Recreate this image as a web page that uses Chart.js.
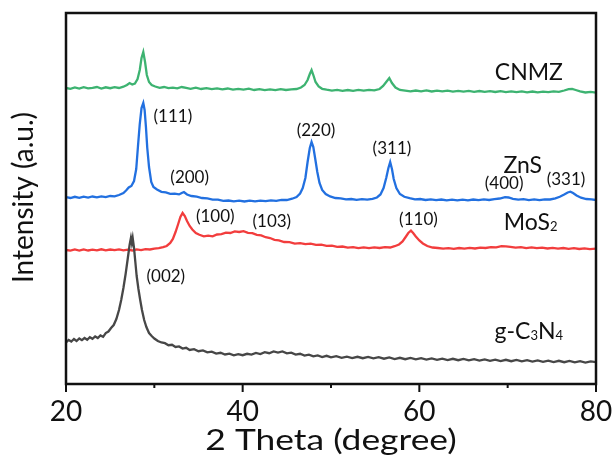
<!DOCTYPE html>
<html>
<head>
<meta charset="utf-8">
<script src="https://cdn.jsdelivr.net/npm/chart.js@4.4.1/dist/chart.umd.min.js"></script>
<style>
  html, body { margin: 0; padding: 0; background: #fff; }
  #wrap { width: 616px; height: 461px; }
</style>
</head>
<body>
<div id="wrap"><canvas id="chartXrd"></canvas></div>
<script>
// ── Datos: [2θ (grados), intensidad (u.a., curvas desplazadas)] ──
const cnmz = [[20,296],[20.5,295.2],[21,296.6],[21.5,295.4],[22,296.8],[22.5,295.6],[23,296.2],[23.5,297],[24,295.5],[24.5,296.7],[25,295.8],[25.5,296.9],[26,296],[26.5,297.3],[26.9,299],[27.2,301],[27.5,299.5],[27.8,300.5],[28.1,305],[28.35,314],[28.55,326],[28.75,332],[28.95,322],[29.15,309],[29.4,302],[29.7,299],[30.1,297.5],[30.6,296.2],[31.1,297],[31.6,295.8],[32.1,296.4],[32.6,295.6],[33.1,297],[33.6,296.1],[34.1,295.2],[34.7,296.3],[35.3,295],[35.9,295.9],[36.5,294.8],[37.1,295.7],[37.7,294.6],[38.3,295.5],[38.9,294.3],[39.5,295.2],[40.1,294.4],[40.7,295.3],[41.3,294],[41.9,294.9],[42.5,293.8],[43.1,294.7],[43.7,293.9],[44.3,294.8],[44.9,294],[45.5,294.6],[46.1,295],[46.6,296.5],[47.0,299],[47.35,304],[47.6,310],[47.8,314],[48.0,309],[48.25,302],[48.6,297.5],[49.0,295.2],[49.5,294.3],[50.1,293.4],[50.7,294.2],[51.3,293.1],[51.9,294],[52.5,293.2],[53.1,294.1],[53.7,293.3],[54.3,294.2],[54.9,293.6],[55.5,295],[55.9,298],[56.25,302],[56.6,306],[56.9,301],[57.3,296.5],[57.8,294],[58.4,293.4],[59.0,292.6],[59.6,293.5],[60.2,292.7],[60.8,293.6],[61.4,292.5],[62.0,293.4],[62.6,292.6],[63.2,293.3],[63.8,292.3],[64.4,293.2],[65.0,292.4],[65.6,293.1],[66.2,292.2],[66.8,293],[67.4,292.1],[68.0,292.9],[68.6,292],[69.2,292.8],[69.8,291.9],[70.4,292.7],[71.0,291.8],[71.6,292.6],[72.2,291.7],[72.8,292.5],[73.4,291.6],[74.0,292.4],[74.6,291.8],[75.2,292.7],[75.8,292.2],[76.4,293.5],[76.9,294.8],[77.3,295],[77.7,294],[78.2,292.6],[78.8,291.5],[79.4,292.1],[80,291.3]];

const zns = [[20,186.8],[20.5,186],[21,187.2],[21.5,186.1],[22,187.3],[22.5,186.4],[23,187.5],[23.5,186.6],[24,187.6],[24.5,186.9],[25,188],[25.5,187.6],[26,189],[26.5,191],[26.8,193.5],[27.1,196.5],[27.4,198],[27.7,203],[27.95,215],[28.15,238],[28.35,260],[28.55,276],[28.75,281],[28.9,274],[29.05,257],[29.2,236],[29.4,217],[29.65,202],[29.9,197],[30.3,194.5],[30.8,192.2],[31.3,191.6],[31.8,190.2],[32.3,190.4],[32.8,189.6],[33.1,191],[33.35,192],[33.7,189.5],[34.2,188],[34.8,187.3],[35.4,186],[36,185.6],[36.6,184.4],[37.2,184.3],[37.8,183.1],[38.4,183.5],[39,182.6],[39.6,183.4],[40.2,182.5],[40.8,183.3],[41.4,182.6],[42,183.4],[42.6,182.8],[43.2,183.7],[43.8,183.2],[44.4,184.1],[45,184],[45.6,185.3],[46.1,187],[46.5,190.5],[46.8,196],[47.1,206],[47.35,222],[47.6,236],[47.8,242],[48.0,237],[48.2,226],[48.45,212],[48.7,201],[49.0,194],[49.4,190],[49.9,187.6],[50.5,186],[51.1,185.6],[51.7,184.6],[52.3,185],[52.9,184.2],[53.5,184.8],[54.1,184.3],[54.7,185.2],[55.2,186.5],[55.6,189.5],[55.95,196],[56.25,206],[56.5,216],[56.7,222],[56.9,215],[57.1,205],[57.4,196],[57.8,190],[58.3,187.2],[58.9,185.8],[59.5,184.6],[60.1,185],[60.7,184],[61.3,184.7],[61.9,183.8],[62.5,184.5],[63.1,183.7],[63.7,184.4],[64.3,183.6],[64.9,184.4],[65.5,183.7],[66.1,184.5],[66.7,183.8],[67.3,184.6],[67.9,184],[68.5,184.8],[69.1,185.5],[69.7,186.8],[70.1,186.5],[70.6,185.2],[71.2,184.3],[71.8,184.8],[72.4,183.9],[73,184.6],[73.6,183.8],[74.2,184.7],[74.8,184.5],[75.4,185.6],[75.9,187.2],[76.4,189.5],[76.8,191.5],[77.1,192.3],[77.4,191],[77.8,188.6],[78.3,186.3],[78.9,185],[79.5,184.6],[80,184]];

const mos2 = [[20,134],[20.5,133.3],[21,134.5],[21.5,133.4],[22,134.6],[22.5,133.5],[23,134.4],[23.5,133.6],[24,134.7],[24.5,133.7],[25,134.5],[25.5,133.8],[26,134.6],[26.5,133.6],[27,134.3],[27.5,133.5],[28,134.6],[28.5,133.9],[29,134.8],[29.5,134.5],[30,135.4],[30.5,135.8],[31,136.8],[31.4,138],[31.8,141],[32.1,145],[32.4,152],[32.7,160],[32.95,167],[33.2,171],[33.45,168],[33.7,163],[34,158],[34.3,154.5],[34.7,151],[35.1,149.2],[35.6,147.6],[36.1,148.4],[36.6,147.7],[37.1,149.5],[37.6,149.8],[38.1,151.3],[38.6,151],[39.1,152.6],[39.6,152],[40.1,152.8],[40.6,151.2],[41.1,150.9],[41.6,149.2],[42.1,148.6],[42.6,146.8],[43.1,146],[43.6,144.2],[44.1,143.7],[44.7,142],[45.3,141.8],[45.9,140.4],[46.5,140.8],[47.1,139.8],[47.7,140.3],[48.3,139.2],[48.9,139.4],[49.5,138.2],[50.1,138.4],[50.7,137.1],[51.3,137.5],[51.9,136.4],[52.5,136.9],[53.1,135.9],[53.7,136.6],[54.3,135.8],[54.9,136.7],[55.5,136],[56.1,136.8],[56.7,136.5],[57.2,137.8],[57.7,139.5],[58.1,142.5],[58.45,147],[58.75,151],[59.05,153.3],[59.3,151],[59.6,147.5],[60,143.5],[60.4,140.5],[60.9,138],[61.5,136.5],[62.1,136],[62.7,135.3],[63.3,135.9],[63.9,135.2],[64.5,136],[65.1,135.4],[65.7,136.2],[66.3,135.5],[66.9,136.4],[67.5,136],[68.1,136.8],[68.7,136.6],[69.3,137.8],[69.8,137.6],[70.3,137.2],[70.9,136.3],[71.5,136.8],[72.1,135.9],[72.7,136.6],[73.3,135.8],[73.9,136.4],[74.5,135.5],[75.1,136.2],[75.7,135.4],[76.3,136],[76.9,135.2],[77.5,135.9],[78.1,135],[78.7,135.7],[79.3,134.9],[80,135.3]];

const gc3n4 = [[20,41.5],[20.3,44],[20.6,42.5],[20.9,45],[21.2,43],[21.5,45.5],[21.8,43.8],[22.1,46],[22.4,44.2],[22.7,46.8],[23,45.2],[23.3,47.5],[23.6,46],[23.9,48.5],[24.2,47.2],[24.5,51],[24.8,52.5],[25.1,56],[25.4,59],[25.7,65],[26,74],[26.25,84],[26.5,96],[26.75,110],[27,126],[27.2,139],[27.35,146],[27.45,141],[27.55,146],[27.7,136],[27.85,122],[28,108],[28.2,95],[28.4,84],[28.6,74],[28.85,64],[29.1,57],[29.4,51],[29.7,48],[30,45.5],[30.4,43],[30.8,41.5],[31.2,40.8],[31.6,38.8],[32,39.2],[32.4,37],[32.8,37.6],[33.2,35.4],[33.6,36.2],[34,34],[34.5,34.8],[35,32.8],[35.5,33.6],[36,31.6],[36.5,32.4],[37,30.4],[37.5,31.2],[38,29.5],[38.5,30.3],[39,28.6],[39.5,29.8],[40,28.8],[40.5,30.2],[41,29.4],[41.5,31],[42,30],[42.5,31.8],[43,30.8],[43.5,32.6],[44,31.4],[44.5,32.5],[45,30.6],[45.5,31.4],[46,29.4],[46.5,30.2],[47,28.4],[47.5,29.4],[48,27.6],[48.5,28.6],[49,27],[49.5,28.2],[50,26.6],[50.6,27.8],[51.2,26.2],[51.8,27.4],[52.4,25.9],[53,27.2],[53.6,25.8],[54.2,27],[54.8,25.6],[55.4,26.8],[56,25.3],[56.6,26.5],[57.2,25],[57.8,26.2],[58.4,24.8],[59,26],[59.6,24.6],[60.2,25.8],[60.8,24.4],[61.4,25.6],[62,24.2],[62.6,25.4],[63.2,24],[63.8,25.2],[64.4,23.8],[65,25],[65.6,23.6],[66.2,24.8],[66.8,23.4],[67.4,24.6],[68,23.2],[68.6,24.4],[69.2,23],[69.8,24.2],[70.4,22.8],[71,24],[71.6,22.6],[72.2,23.8],[72.8,22.4],[73.4,23.6],[74,22.2],[74.6,23.4],[75.2,22],[75.8,23.2],[76.4,21.8],[77,23],[77.6,21.6],[78.2,22.8],[78.8,21.4],[79.4,22.6],[80,21.8]];

const xMajorTicks = [20, 40, 60, 80];
const xMinorTicks = [30, 50, 70];

// ── Etiquetas (texto + subíndices) ──
const nombres = [
  { parts: [['CNMZ']],                          x: 72.4, y: 312 },
  { parts: [['ZnS']],                           x: 71.7, y: 219 },
  { parts: [['MoS'], ['2', 1]],                 x: 72.6, y: 162 },
  { parts: [['g-C'], ['3', 1], ['N'], ['4', 1]], x: 72.4, y: 53 },
];
const planos = [
  { t: '(111)', x: 32.1, y: 267 }, { t: '(200)', x: 34.0, y: 206 },
  { t: '(220)', x: 48.3, y: 253 }, { t: '(311)', x: 56.9, y: 235 },
  { t: '(400)', x: 69.6, y: 200 }, { t: '(331)', x: 76.6, y: 204 },
  { t: '(100)', x: 36.9, y: 167 }, { t: '(103)', x: 43.3, y: 162 },
  { t: '(110)', x: 59.9, y: 164 }, { t: '(002)', x: 31.3, y: 107 },
];

const FONT = 'Lato, "Open Sans", sans-serif';

function richText(ctx, parts, cx, cy, size) {
  const subSize = Math.round(size * 0.56);
  let w = 0;
  parts.forEach(([t, sub]) => {
    ctx.font = (sub ? subSize : size) + 'px ' + FONT;
    w += ctx.measureText(t).width;
  });
  let px = cx - w / 2;
  const base = cy + size * 0.36;
  ctx.textAlign = 'left';
  ctx.textBaseline = 'alphabetic';
  parts.forEach(([t, sub]) => {
    ctx.font = (sub ? subSize : size) + 'px ' + FONT;
    ctx.fillText(t, px, sub ? base + size * 0.04 : base);
    px += ctx.measureText(t).width;
  });
}

const marcoPlugin = {
  id: 'marco',
  afterDraw(chart) {
    const { ctx, chartArea: a, scales: { x, y } } = chart;
    ctx.save();
    ctx.strokeStyle = '#111';
    // marcas del eje x
    ctx.lineWidth = 2;
    ctx.beginPath();
    xMajorTicks.forEach(v => { const p = x.getPixelForValue(v); ctx.moveTo(p, a.bottom); ctx.lineTo(p, a.bottom + 8); });
    xMinorTicks.forEach(v => { const p = x.getPixelForValue(v); ctx.moveTo(p, a.bottom); ctx.lineTo(p, a.bottom + 4); });
    ctx.stroke();
    // marco
    ctx.lineWidth = 2.5;
    ctx.strokeRect(a.left, a.top, a.width, a.height);

    ctx.fillStyle = '#111';
    ctx.textAlign = 'center';
    ctx.textBaseline = 'middle';
    // título eje y
    ctx.save();
    ctx.translate(24, (a.top + a.bottom) / 2 - 1);
    ctx.rotate(-Math.PI / 2);
    ctx.font = '28px ' + FONT;
    ctx.fillText('Intensity (a.u.)', 0, 0);
    ctx.restore();
    // título eje x (tipografía ancha como en la figura original)
    ctx.save();
    ctx.translate((a.left + a.right) / 2, a.bottom + 57);
    ctx.scale(1.22, 1);
    ctx.font = '29px ' + FONT;
    ctx.fillText('2 Theta (degree)', 0, 0);
    ctx.restore();

    // nombres de muestras
    nombres.forEach(n => richText(ctx, n.parts, x.getPixelForValue(n.x), y.getPixelForValue(n.y), 23));
    // índices de Miller
    ctx.font = '17px ' + FONT;
    ctx.textAlign = 'center';
    ctx.textBaseline = 'middle';
    planos.forEach(p => ctx.fillText(p.t, x.getPixelForValue(p.x), y.getPixelForValue(p.y)));
    ctx.restore();
  }
};

const toXY = arr => arr.map(([x, y]) => ({ x, y }));

new Chart(document.getElementById('chartXrd'), {
  type: 'line',
  data: {
    datasets: [
      { label: 'g-C3N4', data: toXY(gc3n4), borderColor: '#474747' },
      { label: 'MoS2',   data: toXY(mos2),  borderColor: '#f23d3d' },
      { label: 'ZnS',    data: toXY(zns),   borderColor: '#2270e0' },
      { label: 'CNMZ',   data: toXY(cnmz),  borderColor: '#3db371' },
    ]
  },
  options: {
    responsive: true, maintainAspectRatio: false, animation: false,
    layout: { padding: { left: 66, top: 13, right: 20, bottom: 0 } },
    elements: { point: { radius: 0 }, line: { borderWidth: 2.3, tension: 0 } },
    plugins: { legend: { display: false }, tooltip: { enabled: false } },
    scales: {
      x: {
        type: 'linear', min: 20, max: 80,
        afterFit: s => { s.height = 77; s.paddingLeft = 0; s.paddingRight = 0; },
        grid: { display: false, drawTicks: false },
        border: { display: false },
        ticks: { stepSize: 20, padding: 11, color: '#111', font: { family: FONT, size: 28 } },
        title: { display: false }
      },
      y: { display: false, min: 0, max: 371 }
    }
  },
  plugins: [marcoPlugin]
});
</script>
</body>
</html>
